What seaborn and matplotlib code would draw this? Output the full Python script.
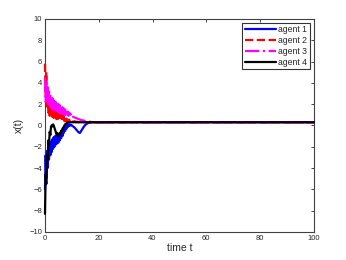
import numpy as np
import pandas as pd
import matplotlib
matplotlib.use("Agg")
import matplotlib.pyplot as plt
import seaborn as sns

# ── Data ────────────────────────────────────────────────────────────────────
# time grid: fine steps early on, coarse once the agents have agreed
T = np.concatenate([np.arange(0, 10, 0.25), np.arange(10, 20, 0.5), np.arange(20, 101, 10)])

AGENT1 = [-6.0, -2.8, -5.0, -2.4, -4.0, -2.0, -3.2, -1.6, -2.8, -1.5,
          -2.5, -1.3, -2.2, -1.1, -2.0, -1.0, -1.8, -0.9, -1.7, -0.8,
          -1.6, -0.8, -1.4, -0.7, -1.2, -0.5, -1.0, -0.4, -0.7, -0.2,
          -0.5, -0.1, -0.3, 0.05, -0.15, 0.1, -0.05, 0.1, 0.0, 0.05,
          0.0, -0.1, -0.2, -0.35, -0.5, -0.65, -0.7, -0.5, -0.3, -0.1,
          0.05, 0.15, 0.22, 0.26, 0.28, 0.3, 0.3, 0.31, 0.3, 0.3,
          0.3, 0.31, 0.3, 0.3, 0.31, 0.3, 0.3, 0.3, 0.3]
AGENT2 = [5.8, 2.8, 5.0, 1.6, 3.0, 1.2, 2.6, 0.9, 2.2, 1.0,
          2.3, 0.8, 1.8, 0.7, 1.6, 0.6, 1.4, 0.6, 1.3, 0.6,
          1.2, 0.5, 1.1, 0.5, 1.1, 0.5, 0.9, 0.45, 0.85, 0.4,
          0.75, 0.4, 0.65, 0.35, 0.6, 0.35, 0.55, 0.3, 0.5, 0.35,
          0.4, 0.35, 0.4, 0.32, 0.36, 0.3, 0.34, 0.3, 0.33, 0.3,
          0.32, 0.3, 0.31, 0.3, 0.31, 0.3, 0.3, 0.31, 0.3, 0.3,
          0.3, 0.29, 0.3, 0.31, 0.3, 0.3, 0.3, 0.3, 0.3]
AGENT3 = [4.5, 2.2, 4.2, 2.4, 3.6, 2.0, 3.2, 1.9, 2.9, 1.7,
          2.7, 1.5, 2.5, 1.5, 2.3, 1.4, 2.2, 1.4, 2.0, 1.3,
          2.0, 1.2, 1.9, 1.2, 1.8, 1.1, 1.7, 1.1, 1.6, 1.0,
          1.5, 1.0, 1.4, 0.9, 1.3, 0.9, 1.2, 0.8, 1.1, 0.8,
          0.9, 0.8, 0.75, 0.7, 0.65, 0.6, 0.55, 0.5, 0.48, 0.45,
          0.42, 0.4, 0.38, 0.36, 0.35, 0.34, 0.33, 0.32, 0.31, 0.3,
          0.3, 0.31, 0.3, 0.3, 0.29, 0.3, 0.3, 0.3, 0.3]
AGENT4 = [-8.3, -4.6, -5.5, -2.8, -3.2, -1.4, -1.8, -0.6, -0.9, -0.1,
          0.0, -0.1, 0.1, 0.0, -0.2, -0.4, -0.6, -0.8, -0.7, -1.0,
          -0.8, -1.0, -0.7, -0.8, -0.5, -0.6, -0.3, -0.3, -0.1, 0.0,
          0.1, 0.15, 0.2, 0.25, 0.28, 0.3, 0.3, 0.3, 0.3, 0.3,
          0.3, 0.3, 0.31, 0.3, 0.3, 0.3, 0.3, 0.3, 0.3, 0.3,
          0.3, 0.3, 0.3, 0.3, 0.3, 0.3, 0.3, 0.3, 0.3, 0.3,
          0.3, 0.3, 0.3, 0.3, 0.3, 0.3, 0.3, 0.3, 0.3]

LABELS = ["agent 1", "agent 2", "agent 3", "agent 4"]
COLORS = ["#0000ff", "#ff0000", "#ff00ff", "#000000"]
STYLES = ["-", "--", "-.", "-"]

# ── Style ───────────────────────────────────────────────────────────────────
sns.set_theme(style="white")
plt.rcParams["font.family"] = ["Liberation Sans", "DejaVu Sans"]

fig = plt.figure(figsize=(3.46, 2.60), dpi=100)
ax = fig.add_axes([0.130, 0.108, 0.777, 0.819])

for vals, lab, col, ls in zip([AGENT1, AGENT2, AGENT3, AGENT4], LABELS, COLORS, STYLES):
    sns.lineplot(x=T, y=vals, ax=ax, color=col, linestyle=ls, linewidth=1.6,
                 label=lab, sort=False, estimator=None, zorder=3, clip_on=False)

ax.set_xlim(0, 100)
ax.set_ylim(-10, 10)
ax.set_xticks(range(0, 101, 20))
ax.set_yticks(range(-10, 11, 2))
ax.tick_params(direction="in", length=2.5, width=0.6, labelsize=5.5, pad=2,
               top=True, right=True, colors="#262626")
for s in ax.spines.values():
    s.set_visible(True)
    s.set_linewidth(0.8)
    s.set_color("#404040")

ax.set_xlabel("time t", fontsize=7.5, labelpad=1)
ax.set_ylabel("x(t)", fontsize=7.5, labelpad=4)

leg = ax.legend(loc="upper right", fontsize=6.2, frameon=True, fancybox=False,
                borderpad=0.3, labelspacing=0.2, handlelength=3.6,
                handletextpad=0.3, borderaxespad=0.45)
leg.get_frame().set_edgecolor("black")
leg.get_frame().set_linewidth(0.8)

fig.savefig("out.png", dpi=100, facecolor="white")
